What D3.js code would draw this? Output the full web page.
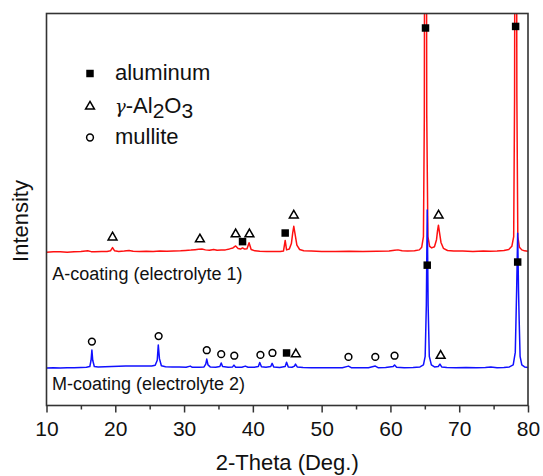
<!DOCTYPE html>
<html>
<head>
<meta charset="utf-8">
<script src="https://cdn.jsdelivr.net/npm/d3@7"></script>
<style>
  html, body { margin: 0; padding: 0; background: #fff; }
  svg { display: block; }
  text { font-family: "Liberation Sans", Arial, sans-serif; fill: #111; }
</style>
</head>
<body>
<svg id="chart" width="543" height="476"></svg>
<script>
// ---------- DATA ----------
const xTicks = [10, 20, 30, 40, 50, 60, 70, 80];
const xMinorTicks = [15, 25, 35, 45, 55, 65, 75];

// vertical stacking offsets (arbitrary intensity units)
const redOffset = 39.1;
const blueOffset = 9.55;

// A-coating (electrolyte 1): [2theta, relative intensity]
const redPattern = [
  [10,0.0],[11,0.1],[12,0.1],[13,0.0],[14,0.1],[15,0.2],[16,0.35],[16.5,0.15],[17,0.1],[18,0.2],
  [18.8,0.2],[19.3,0.35],[19.6,1.2],[19.9,0.35],[20.5,0.2],[21.3,0.3],[22,0.45],[22.6,0.25],
  [23.5,0.2],[24.5,0.25],[25.5,0.2],[26.5,0.3],[27.5,0.25],[28.5,0.3],[29.5,0.35],[30.2,0.45],
  [31,0.55],[31.6,0.65],[32.1,0.75],[32.6,0.8],[33.1,0.6],[33.7,0.5],[34.3,0.7],[34.8,0.5],
  [35.4,0.55],[36,0.6],[36.6,0.85],[37.1,1.1],[37.5,1.6],[37.85,0.95],[38.2,0.8],[38.5,1.1],
  [38.8,0.8],[39.15,0.9],[39.45,2.4],[39.75,0.7],[40.3,0.35],[41,0.25],[42,0.2],[43,0.2],
  [44,0.2],[44.45,0.3],[44.7,3.0],[44.9,0.6],[45.3,0.8],[45.6,2.2],[45.8,5.0],[45.95,6.6],
  [46.15,4.5],[46.4,1.8],[46.8,0.7],[47.4,0.4],[48.5,0.3],[50,0.2],[52,0.2],[54,0.25],
  [56,0.2],[58,0.25],[59.8,0.3],[60.6,0.5],[61.1,0.6],[61.7,0.4],[62.5,0.3],[63.5,0.35],
  [64.2,0.6],[64.55,1.3],[64.8,4],[64.93,35],[65.0,130],[65.2,130],[65.28,35],[65.45,4],
  [65.7,1.5],[66,1.1],[66.4,1.4],[66.7,3.2],[66.85,5.5],[66.98,6.9],[67.12,5.2],[67.35,2.5],
  [67.7,1.0],[68.3,0.45],[69.2,0.3],[70.5,0.3],[72,0.2],[73.5,0.3],[74.5,0.25],[75.5,0.3],
  [76.5,0.45],[77.2,0.7],[77.65,1.5],[77.92,4],[78.05,40],[78.13,130],[78.3,130],[78.38,40],
  [78.52,4],[78.75,1.3],[79.1,0.6],[79.5,0.35],[80,0.25]
];

// M-coating (electrolyte 2): [2theta, relative intensity]
const bluePattern = [
  [10,0.0],[11,0.05],[12,0.0],[13,0.1],[14,0.1],[15,0.15],[15.8,0.2],[16.3,0.4],[16.48,2.0],
  [16.6,4.6],[16.72,2.0],[16.95,0.4],[17.5,0.3],[18.5,0.35],[19.5,0.4],[20.5,0.45],[21.5,0.5],
  [22.5,0.5],[23.5,0.55],[24.5,0.5],[25.3,0.5],[25.8,0.7],[26.1,2.0],[26.25,5.9],[26.42,2.4],
  [26.7,0.6],[27.3,0.35],[28.3,0.3],[29.3,0.25],[30.3,0.2],[30.9,0.5],[31.2,0.2],[32.2,0.2],
  [32.9,0.3],[33.15,1.0],[33.3,2.3],[33.48,0.8],[33.8,0.3],[34.6,0.2],[35.2,0.4],[35.4,1.3],
  [35.6,0.4],[36.4,0.2],[37.05,0.3],[37.25,0.75],[37.5,0.2],[38.4,0.2],[38.9,0.5],[39.3,0.2],
  [40.2,0.2],[40.8,0.4],[41.0,1.4],[41.25,0.35],[41.9,0.2],[42.6,0.4],[42.8,1.2],[43.05,0.25],
  [43.9,0.15],[44.7,0.4],[44.9,1.5],[45.15,0.3],[45.7,0.2],[46.05,0.5],[46.2,1.0],[46.45,0.3],
  [47.3,0.15],[48.5,0.1],[50,0.05],[51.5,0.1],[53,0.1],[53.9,0.5],[54.3,0.1],[55.5,0.1],
  [56.8,0.1],[57.8,0.5],[58.2,0.1],[59.3,0.15],[60.4,0.4],[60.6,0.8],[60.9,0.2],[62,0.1],
  [63.3,0.15],[64.3,0.3],[64.8,0.8],[65.05,3],[65.22,16],[65.35,40.3],[65.48,16],[65.65,3],
  [65.95,0.8],[66.4,0.3],[66.95,0.4],[67.2,1.0],[67.45,0.3],[68.2,0.15],[69.5,0.1],[71,0.15],
  [72.5,0.05],[73.8,0.15],[74.6,0.25],[75.5,0.1],[76.5,0.15],[77.3,0.3],[77.85,0.8],[78.15,4],
  [78.35,20],[78.5,34.4],[78.62,20],[78.72,12],[78.85,3],[79.1,0.8],[79.5,0.3],[80,0.15]
];

// phase markers: [2theta, absolute intensity, phase]
const redMarkers = [
  [19.6,42.9,"tri"],[32.3,42.4,"tri"],[37.5,43.7,"tri"],[39.5,43.7,"tri"],[38.5,41.8,"sq"],
  [44.7,44.0,"sq"],[45.95,48.5,"tri"],[65.1,96.3,"sq"],[67.0,48.5,"tri"],[78.2,96.7,"sq"]
];
const blueMarkers = [
  [16.6,16.3,"circ"],[26.3,17.7,"circ"],[33.3,14.1,"circ"],[35.4,13.1,"circ"],[37.3,12.7,"circ"],
  [41.1,12.9,"circ"],[42.85,13.4,"circ"],[44.9,13.4,"sq"],[46.25,13.1,"tri"],[53.9,12.4,"circ"],
  [57.8,12.4,"circ"],[60.6,12.7,"circ"],[65.35,35.8,"sq"],[67.3,12.7,"tri"],[78.5,36.6,"sq"]
];

const legendItems = [
  {sym: "sq", label: "aluminum"},
  {sym: "tri", label: "gamma"},
  {sym: "circ", label: "mullite"}
];

const seriesLabels = [
  {text: "A-coating (electrolyte 1)", x: 10.85, y: 32.1},
  {text: "M-coating (electrolyte 2)", x: 10.8, y: 3.9}
];

// ---------- LAYOUT ----------
const svg = d3.select("#chart");
const pLeft = 46.5, pRight = 528, pTop = 13.5, pBottom = 405.5;

const x = d3.scaleLinear().domain([10, 80]).range([pLeft, pRight]);
const y = d3.scaleLinear().domain([0, 100]).range([pBottom, pTop]);

svg.append("defs").append("clipPath").attr("id", "plotClip")
  .append("rect").attr("x", pLeft).attr("y", pTop)
  .attr("width", pRight - pLeft).attr("height", pBottom - pTop);

const plot = svg.append("g").attr("clip-path", "url(#plotClip)");

const line = (offset) => d3.line()
  .x(d => x(d[0]))
  .y(d => y(d[1] + offset));

plot.append("path").datum(redPattern)
  .attr("d", line(redOffset))
  .attr("fill", "none").attr("stroke", "#ff1010").attr("stroke-width", 1.5)
  .attr("stroke-linejoin", "round");

plot.append("path").datum(bluePattern)
  .attr("d", line(blueOffset))
  .attr("fill", "none").attr("stroke", "#1010ff").attr("stroke-width", 1.5)
  .attr("stroke-linejoin", "round");

// markers
const symbolFor = {
  sq: d3.symbol().type(d3.symbolSquare).size(56),
  tri: d3.symbol().type(d3.symbolTriangle).size(34),
  circ: d3.symbol().type(d3.symbolCircle).size(36)
};
function drawMarker(g, kind, cx, cy) {
  const p = g.append("path")
    .attr("d", symbolFor[kind]())
    .attr("transform", `translate(${cx},${cy})`);
  if (kind === "sq") p.attr("fill", "#000").attr("stroke", "none");
  else p.attr("fill", "none").attr("stroke", "#000").attr("stroke-width", 1.5);
}
const markG = svg.append("g");
redMarkers.concat(blueMarkers).forEach(m => drawMarker(markG, m[2], x(m[0]), y(m[1])));

// frame
svg.append("rect")
  .attr("x", pLeft).attr("y", pTop)
  .attr("width", pRight - pLeft).attr("height", pBottom - pTop)
  .attr("fill", "none").attr("stroke", "#333").attr("stroke-width", 1.6);

// bottom axis
const axisMajor = d3.axisBottom(x).tickValues(xTicks).tickSize(7).tickSizeOuter(0)
  .tickFormat(d3.format("d")).tickPadding(9);
const gx = svg.append("g").attr("transform", `translate(0,${pBottom})`).call(axisMajor);
gx.select(".domain").remove();
gx.selectAll("line").attr("stroke", "#333").attr("stroke-width", 1.5);
gx.selectAll("text").attr("font-size", 21).attr("font-family", '"Liberation Sans", Arial, sans-serif').attr("fill", "#111");

const axisMinor = d3.axisBottom(x).tickValues(xMinorTicks).tickSize(4).tickSizeOuter(0).tickFormat("");
const gm = svg.append("g").attr("transform", `translate(0,${pBottom})`).call(axisMinor);
gm.select(".domain").remove();
gm.selectAll("line").attr("stroke", "#333").attr("stroke-width", 1.5);

// axis titles
svg.append("text")
  .attr("x", (pLeft + pRight) / 2).attr("y", 470)
  .attr("text-anchor", "middle").attr("font-size", 22)
  .text("2-Theta (Deg.)");

svg.append("text")
  .attr("transform", "translate(28,221) rotate(-90)")
  .attr("text-anchor", "middle").attr("font-size", 22)
  .text("Intensity");

// series labels
seriesLabels.forEach(s => {
  svg.append("text").attr("x", x(s.x)).attr("y", y(s.y))
    .attr("font-size", 18).text(s.text);
});

// legend
const legX = 90, legTextX = 115, legBase = [79.5, 112.5, 143.5];
legendItems.forEach((it, i) => {
  drawMarker(svg, it.sym, legX, legBase[i] - 6);
  const t = svg.append("text").attr("x", legTextX).attr("y", legBase[i]).attr("font-size", 22);
  if (it.label === "gamma") {
    t.append("tspan").attr("font-family", '"DejaVu Serif", "Liberation Serif", serif')
      .attr("font-style", "italic").attr("font-size", 18).text("γ");
    t.append("tspan").text("-Al");
    t.append("tspan").attr("dy", 5).attr("font-size", 21).text("2");
    t.append("tspan").attr("dy", -5).text("O");
    t.append("tspan").attr("dy", 5).attr("font-size", 21).text("3");
  } else {
    t.text(it.label);
  }
});
</script>
</body>
</html>
